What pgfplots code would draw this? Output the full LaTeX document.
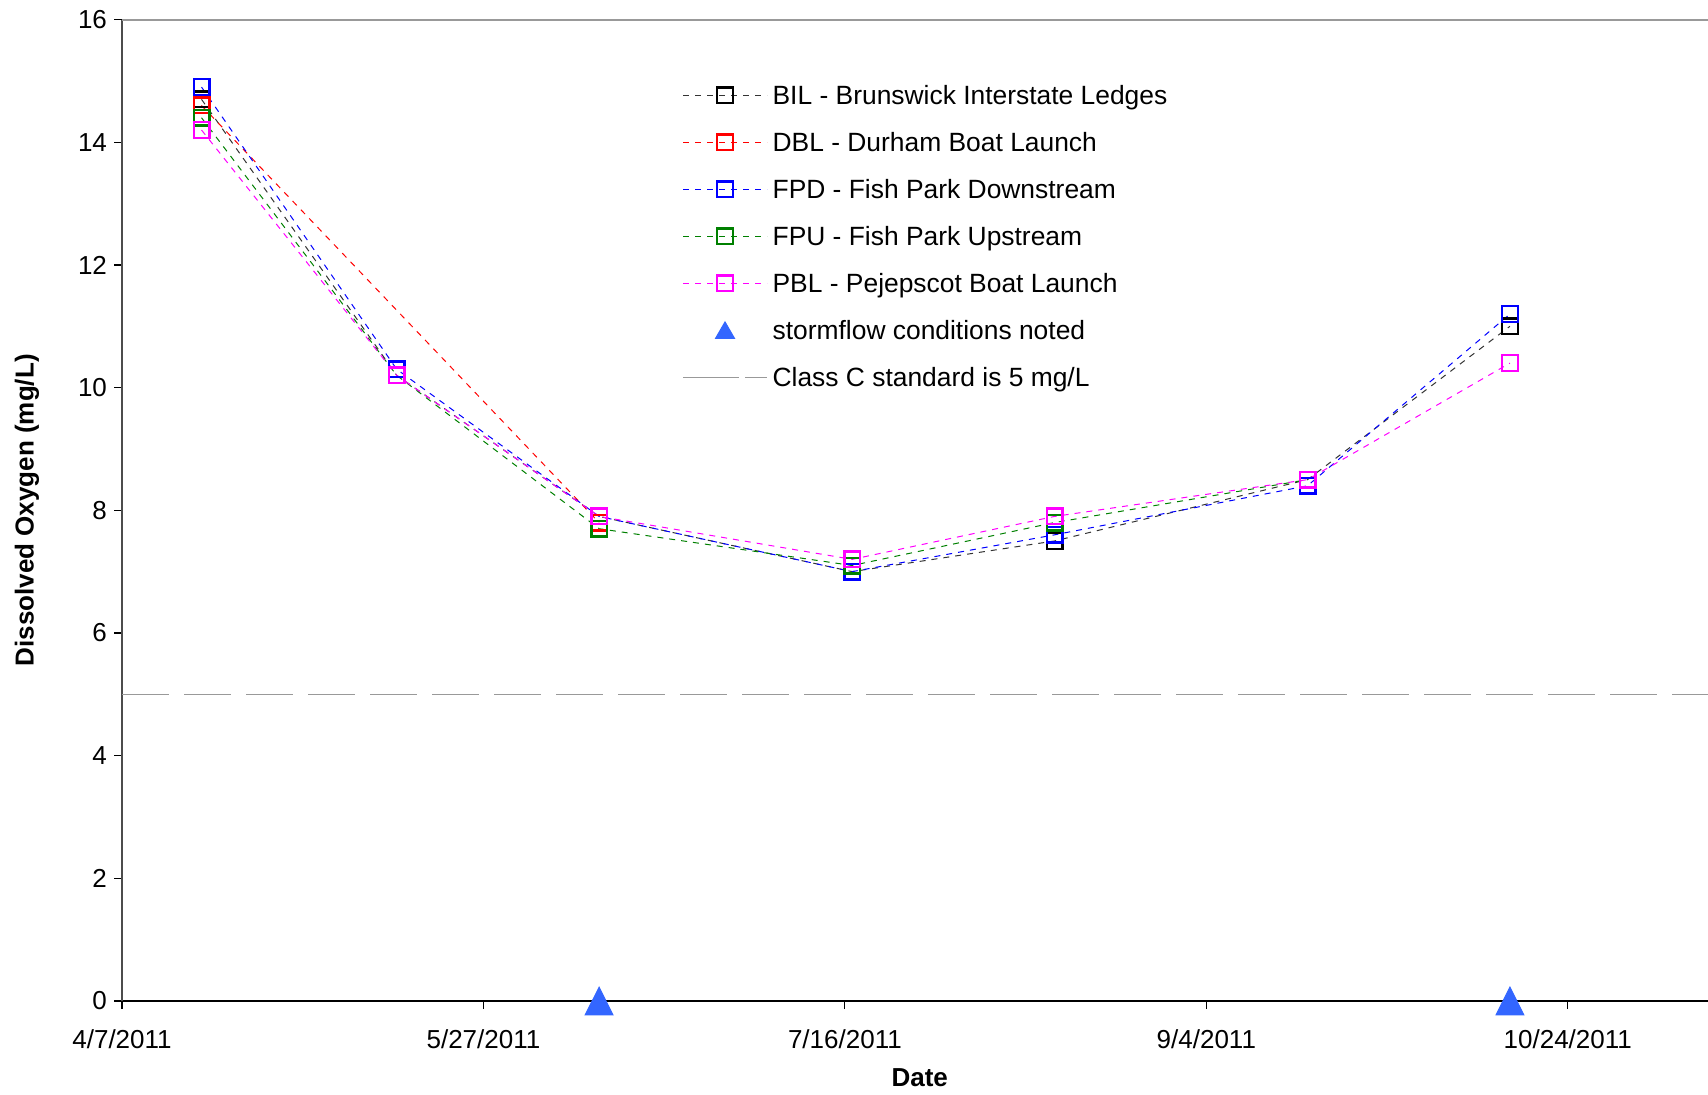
\documentclass[border=0pt]{standalone}
\usepackage{fontspec}
\setmainfont{Liberation Sans}
\usepackage{pgfplots}
\pgfplotsset{compat=1.18}
\definecolor{storm}{RGB}{51,102,255}
\definecolor{dogreen}{RGB}{0,128,0}
\definecolor{domag}{RGB}{255,0,255}
\definecolor{dored}{RGB}{255,0,0}
\definecolor{doblue}{RGB}{0,0,255}
\begin{document}
\begin{tikzpicture}
\useasboundingbox (0,0) rectangle (854pt,547pt);
\begin{axis}[
 at={(61pt,46.5pt)}, anchor=south west,
 scale only axis, width=793pt, height=490.7pt,
 xmin=0, xmax=219.4, ymin=0, ymax=16,
 axis lines=left, axis line style={-},
 x axis line style={black, line width=1pt},
 y axis line style={black!70, line width=1pt},
 xtick={0,50,100,150,200},
 xticklabels={4/7/2011,5/27/2011,7/16/2011,9/4/2011,10/24/2011},
 ytick={0,2,...,16},
 tick align=outside, major tick length=4pt,
 tick style={black, line width=0.6pt},
 ticklabel style={font=\fontsize{13}{15}\selectfont},
 xticklabel style={yshift=-7pt},
 /pgf/number format/assume math mode=true,
 xlabel={Date}, ylabel={Dissolved Oxygen (mg/L)},
 label style={font=\fontsize{13}{15}\selectfont\bfseries},
 xlabel style={at={(axis description cs:0.503,-0.0785)}, anchor=center},
 ylabel style={at={(axis description cs:-0.0599,0.5)}, anchor=center},
 clip=false,
 legend cell align=left,
 legend image code/.code={\draw[mark repeat=2,mark phase=2,yshift=1.6pt,#1] plot coordinates {(0pt,0pt) (21pt,0pt) (42pt,0pt)};},
 legend style={draw=none, fill=none, at={(0.3531,0.9329)}, anchor=north west,
   inner sep=0pt, row sep=11pt, column sep=2.5pt,
   font=\fontsize{13.2}{15}\selectfont,
   nodes={inner sep=0pt, text height=9.5pt, text depth=3pt}},
 every axis plot/.append style={line width=0.5pt, dash pattern=on 3pt off 3pt, mark=square, mark size=3.9pt},
]
\draw[black!40, line width=1pt, solid] (rel axis cs:0,1) -- (rel axis cs:1,1);
\addplot[black!80, mark options={solid, black, line width=1.2pt}] coordinates {
 (11,14.7) (38,10.2) (66,7.9) (101,7.0) (129,7.5) (164,8.5) (192,11.0)};
\addlegendentry{BIL - Brunswick Interstate Ledges}
\addplot[dored, mark options={solid, dored, line width=1.2pt}] coordinates {
 (11,14.6) (66,7.8)};
\addlegendentry{DBL - Durham Boat Launch}
\addplot[doblue, mark options={solid, doblue, line width=1.2pt}] coordinates {
 (11,14.9) (38,10.3) (66,7.9) (101,7.0) (129,7.6) (164,8.4) (192,11.2)};
\addlegendentry{FPD - Fish Park Downstream}
\addplot[dogreen, mark options={solid, dogreen, line width=1.2pt}] coordinates {
 (11,14.4) (38,10.2) (66,7.7) (101,7.1) (129,7.8) (164,8.5)};
\addlegendentry{FPU - Fish Park Upstream}
\addplot[domag, mark options={solid, domag, line width=1.2pt}] coordinates {
 (11,14.2) (38,10.2) (66,7.9) (101,7.2) (129,7.9) (164,8.5) (192,10.4)};
\addlegendentry{PBL - Pejepscot Boat Launch}
\addplot[only marks, storm, mark=triangle*, mark size=8pt,
  mark options={solid, storm, yshift=-2.3pt, yscale=1.15},
  legend image post style={mark size=5.5pt, mark options={solid, storm, yshift=-1.4pt}}] coordinates {
 (66,0) (192,0)};
\addlegendentry{stormflow conditions noted}
\addplot[black!40, mark=none, line width=0.6pt, dash pattern=on 23.5pt off 7.5pt,
  legend image post style={dash pattern=on 27.8pt off 3.3pt}] coordinates {
 (0,5) (219.4,5)};
\addlegendentry{Class C standard is 5 mg/L}
\end{axis}
\end{tikzpicture}
\end{document}
